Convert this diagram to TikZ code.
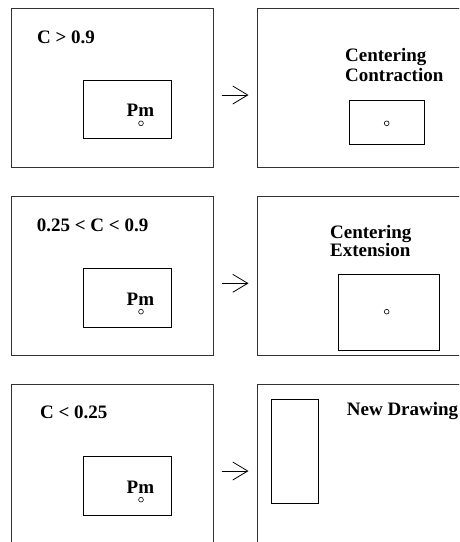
\documentclass[tikz,border=0pt]{standalone}
\usepackage{fontspec}
\setmainfont{Liberation Serif}
\usetikzlibrary{arrows.meta}
\tikzset{
  outerbox/.style={draw=black!80, line width=1.1pt, inner sep=0pt, anchor=north west},
  innerbox/.style={draw=black, line width=0.8pt, inner sep=0pt, anchor=north west},
  lbl/.style={anchor=base west, inner sep=0pt, font=\fontsize{19}{20}\selectfont\bfseries},
  dot/.style={circle, draw=black, line width=0.6pt, minimum size=4.8pt, inner sep=0pt},
  goarrow/.style={line width=0.8pt, -{Straight Barb[length=15pt,width=18pt,line width=0.8pt]}},
}
\begin{document}
\begin{tikzpicture}[x=1pt,y=-1pt]
\useasboundingbox (0,0) rectangle (459,542);
\clip (0,0) rectangle (459,542);
% ---------- row 1 ----------
\node[outerbox, minimum width=202pt, minimum height=158.7pt] (l1) at (11.3,8) {};
\node[outerbox, minimum width=240pt, minimum height=158.7pt] (r1) at (256.7,8) {};
\node[lbl] (t1) at (37,43.3) {C > 0.9};
\node[innerbox, minimum width=87.4pt, minimum height=58.3pt] (il1) at (83.3,80) {};
\node[lbl] (pm1) at (126.5,116.7) {Pm};
\node[dot] (c1) at (141,123.3) {};
\node[lbl] (t1b) at (345,61.7) {Centering};
\node[lbl] (t1c) at (345,81.7) {Contraction};
\node[innerbox, minimum width=75pt, minimum height=44.3pt] (ir1) at (349.3,100) {};
\node[dot] (d1) at (386.7,123.3) {};
\coordinate (a1s) at (221.7,95);
\coordinate (a1e) at (248.5,95);
\draw[goarrow] (a1s) -- (a1e);
% ---------- row 2 ----------
\node[outerbox, minimum width=202pt, minimum height=159pt] (l2) at (11.3,196) {};
\node[outerbox, minimum width=240pt, minimum height=159pt] (r2) at (256.7,196) {};
\node[lbl] (t2) at (36.7,231.7) {0.25 < C < 0.9};
\node[innerbox, minimum width=87.4pt, minimum height=58.4pt] (il2) at (83.3,268.3) {};
\node[lbl] (pm2) at (126.5,305) {Pm};
\node[dot] (c2) at (141,311.7) {};
\node[lbl] (t2b) at (330,238.3) {Centering};
\node[lbl] (t2c) at (330,256.7) {Extension};
\node[innerbox, minimum width=101.6pt, minimum height=75.7pt] (ir2) at (337.7,274.3) {};
\node[dot] (d2) at (386.7,311.7) {};
\coordinate (a2s) at (221.7,283.3);
\coordinate (a2e) at (248.5,283.3);
\draw[goarrow] (a2s) -- (a2e);
% ---------- row 3 ----------
\node[outerbox, minimum width=202pt, minimum height=200pt] (l3) at (11.3,384.3) {};
\node[outerbox, minimum width=240pt, minimum height=200pt] (r3) at (256.7,384.3) {};
\node[lbl] (t3) at (40,418.7) {C < 0.25};
\node[innerbox, minimum width=87.4pt, minimum height=58.4pt] (il3) at (83.3,456.3) {};
\node[lbl] (pm3) at (126.5,493.7) {Pm};
\node[dot] (c3) at (141,499.7) {};
\node[innerbox, minimum width=46.7pt, minimum height=104.3pt] (ir3) at (271,398.7) {};
\node[lbl] (t3b) at (346.7,415.3) {New Drawing};
\coordinate (a3s) at (221.7,471);
\coordinate (a3e) at (248.5,471);
\draw[goarrow] (a3s) -- (a3e);
\end{tikzpicture}
\end{document}
